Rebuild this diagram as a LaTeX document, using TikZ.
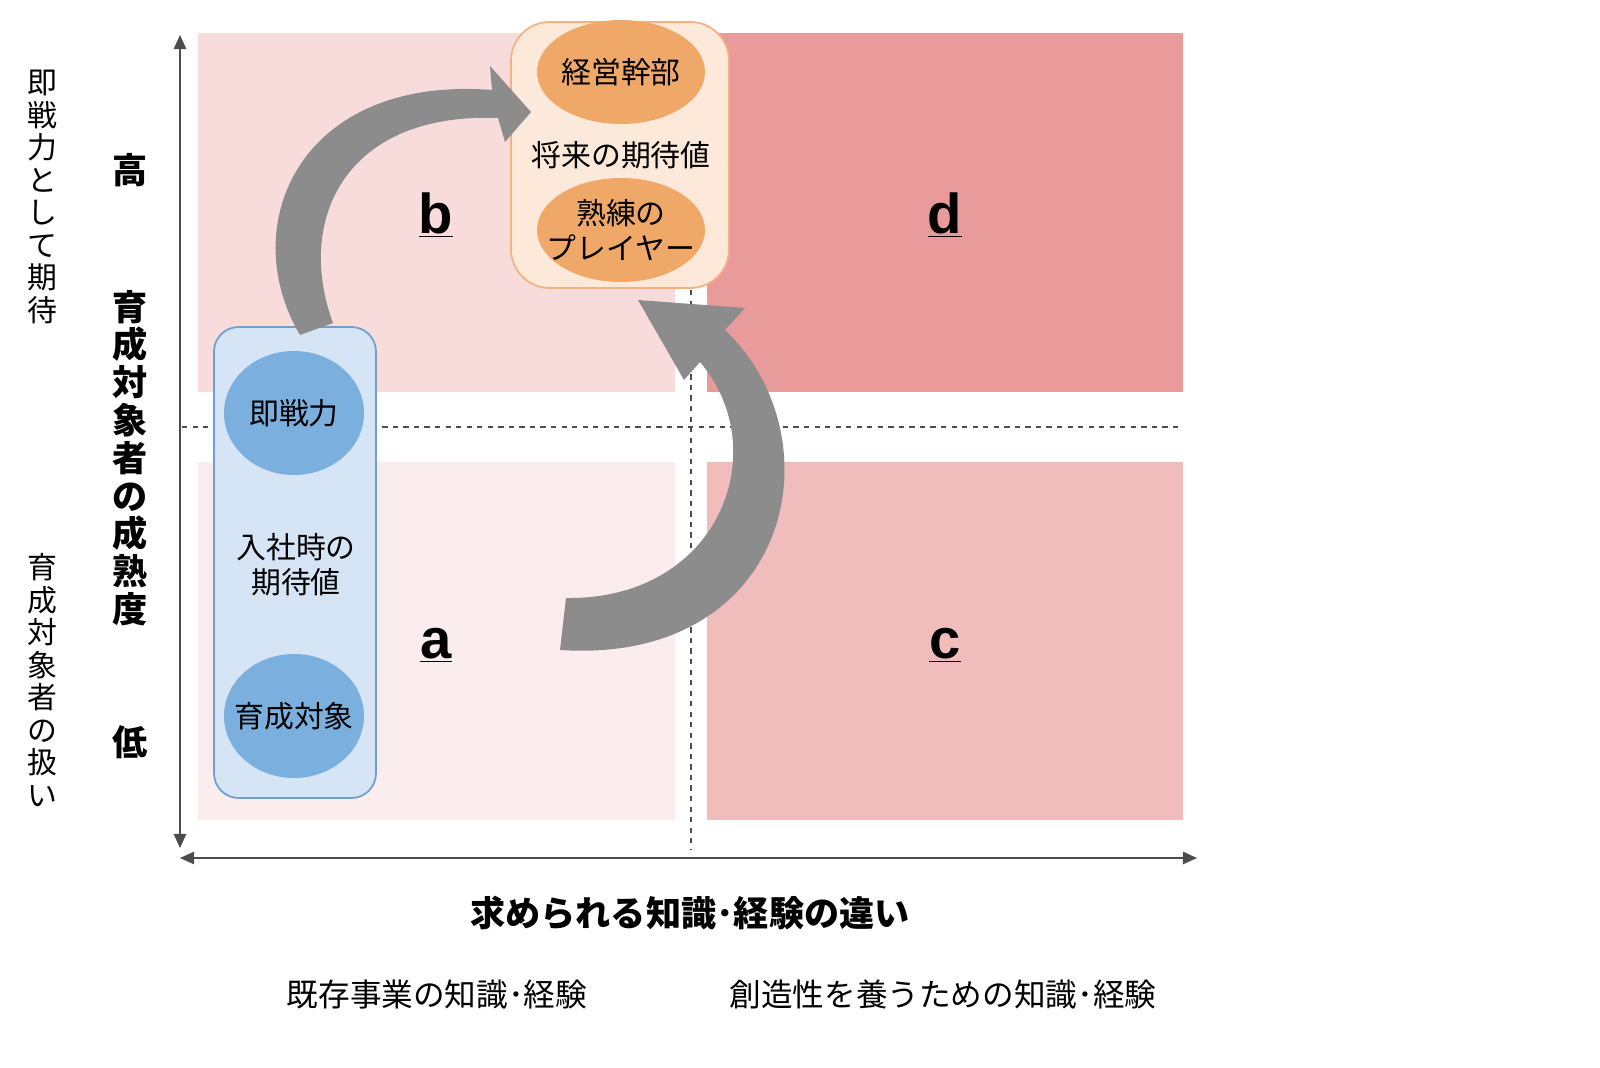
\documentclass[tikz,border=0pt]{standalone}
\usepackage{fontspec}
\setmainfont{Noto Sans CJK JP}
\newfontfamily\latf{Liberation Sans}
\usetikzlibrary{arrows.meta}
\definecolor{qb}{HTML}{F8DCDC}\definecolor{qd}{HTML}{E99B9B}
\definecolor{qa}{HTML}{FBEDED}\definecolor{qc}{HTML}{F0BCBC}
\definecolor{bbox}{HTML}{D5E5F5}\definecolor{bline}{HTML}{6FA0D0}\definecolor{bell}{HTML}{7BAFDD}
\definecolor{obox}{HTML}{FDE9D9}\definecolor{oline}{HTML}{F4B183}\definecolor{oell}{HTML}{F0A868}
\definecolor{arr}{HTML}{8C8C8C}
\begin{document}
\begin{tikzpicture}[x=0.02cm,y=-0.02cm,
  t/.style={font=\fontsize{17}{20}\selectfont,align=center,inner sep=0},
  tb/.style={font=\fontsize{20}{24}\selectfont\bfseries,align=center,inner sep=0},
  let/.style={font=\latf\fontsize{32}{34}\selectfont\bfseries,inner sep=0},
  ax/.style={draw=black!70,line width=1pt,{Triangle[length=8pt,width=7pt]}-{Triangle[length=8pt,width=7pt]}},
  dsh/.style={draw=black!70,dashed,line width=0.8pt}]
\useasboundingbox (0,0) rectangle (1600,1068);
\fill[qb] (198,33) rectangle (675,392);
\fill[qd] (707,33) rectangle (1183,392);
\fill[qa] (198,462) rectangle (675,820);
\fill[qc] (707,462) rectangle (1183,820);
\draw[dsh] (182,427) -- (1183,427);
\draw[dsh] (691,290) -- (691,850);
\coordinate (yt) at (180,35); \coordinate (yb) at (180,848);
\coordinate (xl) at (180,858); \coordinate (xr) at (1197,858);
\draw[ax] (yt) -- (yb);
\draw[ax] (xl) -- (xr);
% blue box
\draw[fill=bbox,draw=bline,line width=1pt,rounded corners=14] (214,327) rectangle (376,798);
\fill[bell] (294,413) ellipse [x radius=70,y radius=62];
\fill[bell] (294,716) ellipse [x radius=70,y radius=62];
\node[t] (sok) at (294,413) {即戦力};
\node[t] (iku) at (294,716) {育成対象};
\node[t] (nyu) at (296,565) {入社時の\\期待値};
% orange box
\draw[fill=obox,draw=oline,line width=1pt,rounded corners=22] (511,22) rectangle (729,288);
\fill[oell] (621,72) ellipse [x radius=84,y radius=52];
\fill[oell] (621,230) ellipse [x radius=84,y radius=52];
\node[t] (kei) at (621,72) {経営幹部};
\node[t] (sho) at (621,155) {将来の期待値};
\node[t] (juk) at (621,230) {熟練の\\プレイヤー};
% arrows
\fill[arr] (300,335) .. controls (235,225) and (300,75) .. (492,90)
  -- (490,66) -- (531,112) -- (505,142) -- (498,118)
  .. controls (345,112) and (295,220) .. (333,323) -- cycle;
\fill[arr] (560,650) .. controls (790,665) and (840,440) .. (725,330)
  -- (745,308) -- (638,300) -- (684,380) -- (700,362)
  .. controls (775,450) and (720,600) .. (566,598) -- cycle;
% letters
\node[let] (b) at (436,215) {\underline{b}};
\node[let] (d) at (945,215) {\underline{d}};
\node[let] (a) at (436,645) {\underline{a}};
\node[let] (c) at (945,645) {\underline{c}};
% left labels
\node[t,font=\fontsize{17}{18.5}\selectfont] (l1) at (42,197) {即\\戦\\力\\と\\し\\て\\期\\待};
\node[t,font=\fontsize{17}{18.5}\selectfont] (l2) at (42,680) {育\\成\\対\\象\\者\\の\\扱\\い};
\node[tb] (hi) at (130,170) {高};
\node[tb] (lo) at (130,742) {低};
\node[tb,font=\fontsize{20}{21.5}\selectfont\bfseries] (mat) at (130,458) {育\\成\\対\\象\\者\\の\\成\\熟\\度};
% bottom
\node[tb] (xt) at (690,913) {求められる知識･経験の違い};
\node[t,font=\fontsize{18}{20}\selectfont] (x1) at (437,995) {既存事業の知識･経験};
\node[t,font=\fontsize{18}{20}\selectfont] (x2) at (943,995) {創造性を養うための知識･経験};
\end{tikzpicture}
\end{document}
